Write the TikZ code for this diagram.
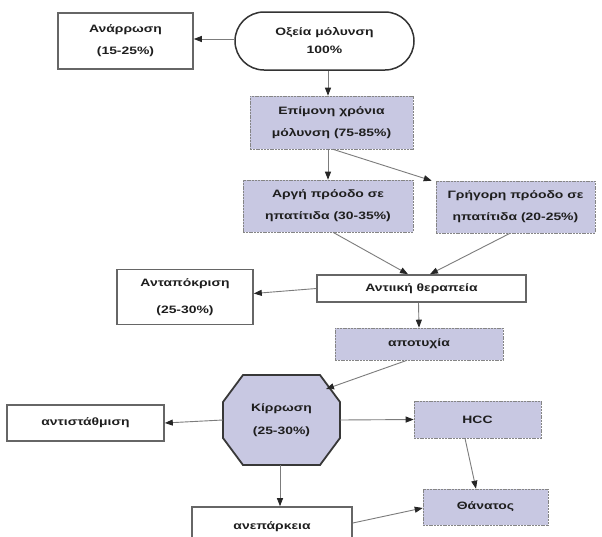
\documentclass[tikz,border=0pt]{standalone}
\usepackage{fontspec}
\setmainfont{Liberation Sans}[FakeStretch=1.3]
\usetikzlibrary{arrows.meta}
\definecolor{lav}{HTML}{C8C8E2}
\definecolor{txt}{HTML}{1E1E1E}
\definecolor{wbord}{HTML}{666666}
\definecolor{lbord}{HTML}{858585}
\definecolor{lline}{HTML}{7C7C7C}
\tikzset{
  base/.style={text=txt, align=center, inner sep=0pt, font=\bfseries\fontsize{10.7}{22}\selectfont},
  whitebox/.style={base, draw=wbord, line width=1.6pt, fill=white},
  lavbox/.style={base, draw=lbord, line width=0.6pt, dash pattern=on 2pt off 0.8pt, fill=lav},
  stadium/.style={base, draw=black!80, line width=1.5pt, fill=white, rounded corners=29pt},
  octfill/.style={draw=black!78, line width=1.8pt, fill=lav, line join=miter},
  arr/.style={draw=lline, line width=0.9pt, -{Triangle[length=8pt,width=6pt,color=black!85]}}
}
\begin{document}
\begin{tikzpicture}[x=1pt,y=-1pt]
\useasboundingbox (0,0) rectangle (602,536);
\clip (0,0) rectangle (602,536);
\fill[white] (0,0) rectangle (602,536);

% nodes
\node[whitebox, minimum width=135pt, minimum height=56pt] (anar) at (125.5,41) {Ανάρρωση\\(15-25\%)};
\node[stadium, minimum width=179pt, minimum height=58pt, font=\bfseries\fontsize{10.7}{18}\selectfont] (oxeia) at (324.5,41) {Οξεία μόλυνση\\100\%};
\node[lavbox, minimum width=163pt, minimum height=53pt] (epim) at (331.5,122.5) {Επίμονη χρόνια\\μόλυνση (75-85\%)};
\node[lavbox, minimum width=170pt, minimum height=52pt] (argi) at (328,206) {Αργή πρόοδο σε\\ηπατίτιδα (30-35\%)};
\node[lavbox, minimum width=159pt, minimum height=52pt] (grig) at (515.5,207) {Γρήγορη πρόοδο σε\\ηπατίτιδα (20-25\%)};
\node[whitebox, minimum width=209pt, minimum height=27pt] (anti) at (421.5,288.5) {Αντιική θεραπεία};
\node[whitebox, minimum width=136pt, minimum height=55pt, font=\bfseries\fontsize{10.7}{27}\selectfont] (antap) at (185,297) {Ανταπόκριση\\(25-30\%)};
\node[lavbox, minimum width=168pt, minimum height=32pt] (apot) at (419,344) {αποτυχία};

% octagon
\coordinate (kc) at (281.5,420);
\draw[octfill] (243,375) -- (320,375) -- (340,402) -- (340,438) -- (320,465) -- (243,465) -- (223,438) -- (223,402) -- cycle;
\node[base, minimum width=117pt, minimum height=90pt, font=\bfseries\fontsize{10.7}{23}\selectfont] (kir) at (kc) {Κίρρωση\\(25-30\%)};
\coordinate (kirne) at (326,389);

\node[whitebox, minimum width=157pt, minimum height=36pt] (antist) at (85.5,423) {αντιστάθμιση};
\node[lavbox, minimum width=127pt, minimum height=37pt] (hcc) at (477.5,419.5) {HCC};
\node[lavbox, minimum width=125pt, minimum height=36pt] (than) at (485.5,507) {Θάνατος};
\node[whitebox, minimum width=160pt, minimum height=40pt] (anep) at (272,527) {ανεπάρκεια};

% connectors
\draw[arr] ([yshift=2pt]oxeia.west) -- ([yshift=2pt]anar.east);
\draw[arr] ([xshift=3.5pt]oxeia.south) -- ([xshift=-3.5pt]epim.north);
\draw[arr] ([xshift=-3.5pt]epim.south) -- (argi.north);
\draw[arr] ([xshift=1.5pt]epim.south) -- ([xshift=-4pt]grig.north west);
\draw[arr] ([xshift=5pt]argi.south) -- ([xshift=-13.5pt]anti.north);
\draw[arr] ([xshift=-5.5pt]grig.south) -- ([xshift=8.5pt]anti.north);
\draw[arr] (anti.west) -- ([yshift=3.5pt]antap.east);
\draw[arr] ([xshift=-3pt]anti.south) -- (apot.north);
\draw[arr] ([xshift=-12pt]apot.south) -- (kirne);
\draw[arr] (kir.west) -- (antist.east);
\draw[arr] (kir.east) -- (hcc.west);
\draw[arr] ([xshift=-12.5pt]hcc.south) -- ([xshift=-9.5pt]than.north);
\draw[arr] ([xshift=-1.5pt]kir.south) -- ([xshift=8pt]anep.north);
\draw[arr] ([yshift=4pt]anep.east) -- ([yshift=-1pt]than.west);
\end{tikzpicture}
\end{document}
